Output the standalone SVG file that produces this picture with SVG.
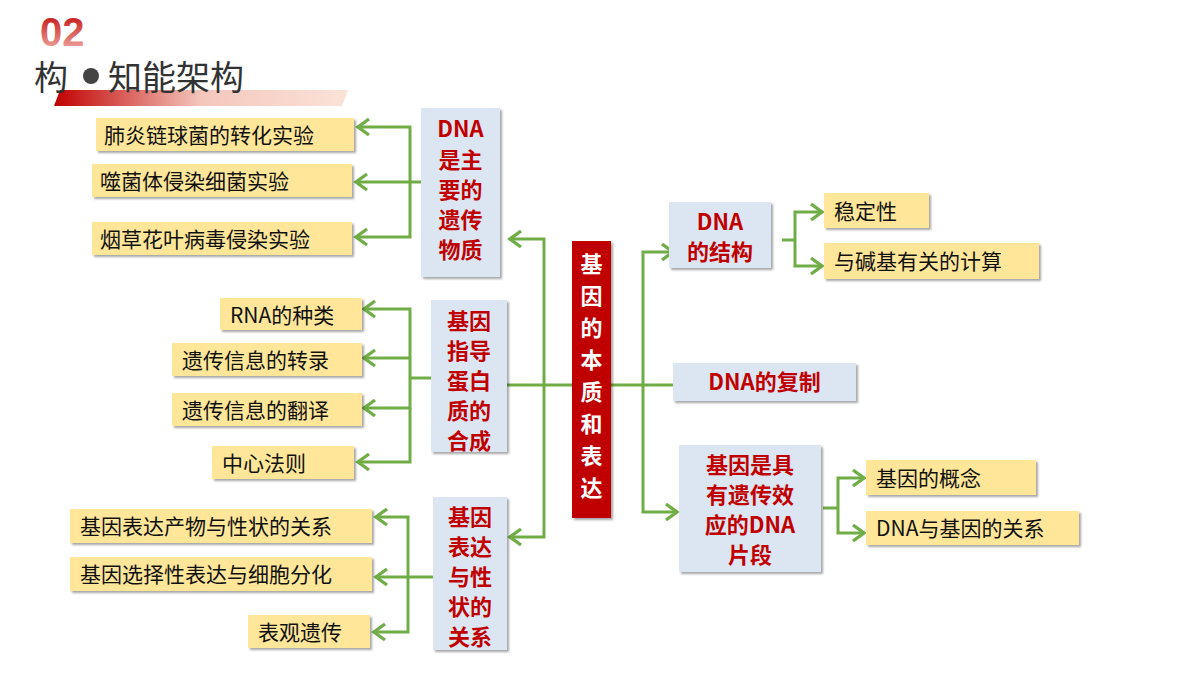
<svg xmlns="http://www.w3.org/2000/svg" width="1200" height="675" viewBox="0 0 1200 675">
<defs>
<linearGradient id="bar" x1="0" x2="1"><stop offset="0" stop-color="#C00000"/><stop offset="0.5" stop-color="#F4C6BC"/><stop offset="1" stop-color="#FBE3D8"/></linearGradient>
<linearGradient id="num" x1="0" y1="0" x2="0" y2="1"><stop offset="0" stop-color="#C00000"/><stop offset="1" stop-color="#F3B9B0"/></linearGradient>
<filter id="sh" x="-10%" y="-10%" width="130%" height="130%"><feDropShadow dx="2" dy="2" stdDeviation="1.2" flood-color="#000" flood-opacity="0.35"/></filter>
<marker id="ar" markerWidth="20" markerHeight="20" refX="14" refY="10" orient="auto" markerUnits="userSpaceOnUse"><path d="M3,2 L14,10 L3,18" fill="none" stroke="#70AD47" stroke-width="3.4"/></marker>
</defs>
<style>
.leaf{fill:#FFE699;filter:url(#sh)}
.node{fill:#DCE6F2;filter:url(#sh)}
.lt{font-family:"Noto Sans CJK SC","Liberation Sans",sans-serif;font-size:21px;fill:#111}
.nt{font-family:"Noto Sans CJK SC","Liberation Sans",sans-serif;font-size:22px;font-weight:bold;fill:#C00000;text-anchor:middle}
.c{fill:none;stroke:#70AD47;stroke-width:3}
.a{marker-end:url(#ar)}
</style>
<rect width="1200" height="675" fill="#fff"/>
<g id="header">
<text x="40" y="46" font-family="Liberation Sans,sans-serif" font-size="40" font-weight="bold" fill="url(#num)">02</text>
<polygon points="60,90 348,90 342,106 54,106" fill="url(#bar)"/>
<text x="34" y="90" font-family="Noto Sans CJK SC,sans-serif" font-size="34" fill="#333">构</text>
<circle cx="91" cy="76" r="8" fill="#444"/>
<text x="108" y="90" font-family="Noto Sans CJK SC,sans-serif" font-size="34" fill="#333">知能架构</text>
</g>
<g id="connectors">
<path class="c" d="M572,385 H504"/>
<path class="c a" d="M544,385 V239 H510"/>
<path class="c a" d="M544,385 V537 H510"/>
<path class="c" d="M611,385 H673"/>
<path class="c a" d="M643,385 V252 H673"/>
<path class="c a" d="M643,385 V512 H677"/>
<path class="c" d="M421,182 H410"/>
<path class="c a" d="M410,182 V127 H358"/>
<path class="c a" d="M410,182 H356"/>
<path class="c a" d="M410,182 V237 H356"/>
<path class="c" d="M431,378 H410"/>
<path class="c a" d="M410,378 V309 H364"/>
<path class="c a" d="M410,358 H364"/>
<path class="c a" d="M410,378 V408 H364"/>
<path class="c a" d="M410,408 V462 H358"/>
<path class="c" d="M433,577 H408"/>
<path class="c a" d="M408,577 V517 H376"/>
<path class="c a" d="M408,577 H376"/>
<path class="c a" d="M408,577 V632 H374"/>
<path class="c" d="M782,240 H795"/>
<path class="c a" d="M795,240 V212 H822"/>
<path class="c a" d="M795,240 V266 H822"/>
<path class="c" d="M823,508 H838"/>
<path class="c a" d="M838,508 V478 H864"/>
<path class="c a" d="M838,508 V533 H864"/>
</g>
<g id="center"><rect x="572" y="241" width="39" height="277" fill="#C00000" filter="url(#sh)"/>
<text class="nt" style="fill:#fff" x="591.5"><tspan x="591.5" y="272">基</tspan><tspan x="591.5" y="304">因</tspan><tspan x="591.5" y="336">的</tspan><tspan x="591.5" y="368">本</tspan><tspan x="591.5" y="400">质</tspan><tspan x="591.5" y="432">和</tspan><tspan x="591.5" y="464">表</tspan><tspan x="591.5" y="496">达</tspan></text></g>
<g id="n-dna"><rect class="node" x="421" y="108" width="79" height="169"/><text class="nt"><tspan x="460.5" y="137">DNA</tspan><tspan x="460.5" y="168">是主</tspan><tspan x="460.5" y="198">要的</tspan><tspan x="460.5" y="228">遗传</tspan><tspan x="460.5" y="258">物质</tspan></text></g>
<g id="n-protein"><rect class="node" x="431" y="300" width="76" height="152"/><text class="nt"><tspan x="469" y="329">基因</tspan><tspan x="469" y="359">指导</tspan><tspan x="469" y="389">蛋白</tspan><tspan x="469" y="419">质的</tspan><tspan x="469" y="449">合成</tspan></text></g>
<g id="n-expr"><rect class="node" x="433" y="497" width="74" height="153"/><text class="nt"><tspan x="470" y="525">基因</tspan><tspan x="470" y="555">表达</tspan><tspan x="470" y="585">与性</tspan><tspan x="470" y="615">状的</tspan><tspan x="470" y="645">关系</tspan></text></g>
<g id="n-struct"><rect class="node" x="669" y="202" width="102" height="66"/><text class="nt"><tspan x="720" y="230">DNA</tspan><tspan x="720" y="260">的结构</tspan></text></g>
<g id="n-repl"><rect class="node" x="673" y="363" width="183" height="38"/><text class="nt" x="764.5" y="390">DNA的复制</text></g>
<g id="n-gene"><rect class="node" x="679" y="445" width="142" height="127"/><text class="nt"><tspan x="750" y="473">基因是具</tspan><tspan x="750" y="503">有遗传效</tspan><tspan x="750" y="533">应的DNA</tspan><tspan x="750" y="563">片段</tspan></text></g>
<g id="l1"><rect class="leaf" x="96" y="118" width="258" height="33"/><text class="lt" x="104" y="143">肺炎链球菌的转化实验</text></g>
<g id="l2"><rect class="leaf" x="92" y="164" width="260" height="33"/><text class="lt" x="100" y="189">噬菌体侵染细菌实验</text></g>
<g id="l3"><rect class="leaf" x="92" y="222" width="260" height="33"/><text class="lt" x="100" y="247">烟草花叶病毒侵染实验</text></g>
<g id="l4"><rect class="leaf" x="220" y="298" width="142" height="32"/><text class="lt" x="230" y="323">RNA的种类</text></g>
<g id="l5"><rect class="leaf" x="172" y="343" width="190" height="33"/><text class="lt" x="182" y="368">遗传信息的转录</text></g>
<g id="l6"><rect class="leaf" x="172" y="393" width="190" height="33"/><text class="lt" x="182" y="418">遗传信息的翻译</text></g>
<g id="l7"><rect class="leaf" x="212" y="446" width="142" height="33"/><text class="lt" x="222" y="471">中心法则</text></g>
<g id="l8"><rect class="leaf" x="70" y="509" width="302" height="34"/><text class="lt" x="80" y="534">基因表达产物与性状的关系</text></g>
<g id="l9"><rect class="leaf" x="70" y="557" width="302" height="34"/><text class="lt" x="80" y="582">基因选择性表达与细胞分化</text></g>
<g id="l10"><rect class="leaf" x="248" y="615" width="122" height="33"/><text class="lt" x="258" y="640">表观遗传</text></g>
<g id="l11"><rect class="leaf" x="824" y="193" width="105" height="35"/><text class="lt" x="834" y="219">稳定性</text></g>
<g id="l12"><rect class="leaf" x="824" y="243" width="215" height="36"/><text class="lt" x="834" y="269">与碱基有关的计算</text></g>
<g id="l13"><rect class="leaf" x="866" y="460" width="170" height="35"/><text class="lt" x="876" y="486">基因的概念</text></g>
<g id="l14"><rect class="leaf" x="866" y="511" width="213" height="34"/><text class="lt" x="876" y="536">DNA与基因的关系</text></g>
</svg>
